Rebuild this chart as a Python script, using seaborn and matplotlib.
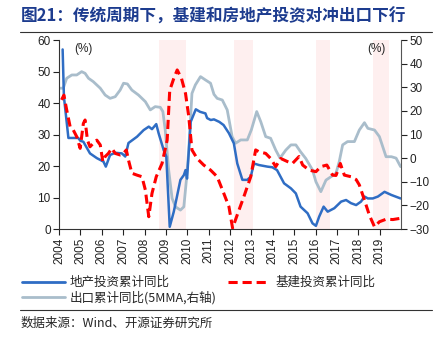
import matplotlib
matplotlib.use("Agg")
import matplotlib.pyplot as plt
from matplotlib.lines import Line2D
import seaborn as sns
import pandas as pd

# ---------------- data ----------------
t_re = [2004.17, 2004.23, 2004.44, 2004.9, 2005.0, 2005.14, 2005.45, 2005.77, 2006.08, 2006.19,
        2006.39, 2006.63, 2006.94, 2007.1, 2007.25, 2007.65, 2007.96, 2008.2, 2008.35, 2008.55,
        2008.66, 2008.9, 2009.02, 2009.18, 2009.37, 2009.5, 2009.68, 2009.84, 2009.92, 2009.99,
        2010.16, 2010.4, 2010.6, 2010.85, 2010.93, 2011.1, 2011.25, 2011.5, 2011.7, 2011.95,
        2012.18, 2012.34, 2012.58, 2012.81, 2012.97, 2013.12, 2013.36, 2013.75, 2013.98, 2014.2,
        2014.53, 2014.85, 2015.08, 2015.3, 2015.63, 2015.86, 2016.02, 2016.17, 2016.38, 2016.57,
        2016.88, 2017.2, 2017.43, 2017.66, 2017.9, 2018.13, 2018.29, 2018.45, 2018.68, 2018.92,
        2019.23, 2019.55, 2019.98]
v_re = [57, 42, 28.9, 28.9, 28, 27.7, 24, 22.5, 21.4, 19.8,
        23.5, 24.2, 24, 23, 27.3, 29.3, 31.4, 32.5, 31.7, 33.3,
        30.4, 25, 23, 0.7, 5.5, 9.7, 15.6, 17.1, 18.7, 16,
        34, 38, 37.2, 36.7, 35.2, 34.6, 34.8, 34, 33, 30.4,
        27.2, 20.8, 15.6, 15.6, 16.6, 20.8, 20.3, 19.8, 19.6, 18.7,
        14.5, 12.9, 11.3, 7.1, 5, 1.8, 1, 3.9, 7.1, 5.5,
        6.6, 8.7, 9.2, 8.2, 7.6, 8.7, 10.3, 9.7, 9.7, 10.3,
        11.8, 10.8, 9.7]

t_infra = [2004.12, 2004.23, 2004.36, 2004.52, 2004.67, 2004.83, 2004.99, 2005.14, 2005.22, 2005.33,
           2005.45, 2005.6, 2005.77, 2005.93, 2006.05, 2006.16, 2006.31, 2006.47, 2006.63, 2006.86,
           2007.02, 2007.15, 2007.25, 2007.41, 2007.65, 2007.88, 2008.04, 2008.2, 2008.35, 2008.55,
           2008.82, 2009.06, 2009.18, 2009.37, 2009.53, 2009.73, 2009.92, 2010.07, 2010.22, 2010.46,
           2010.77, 2011.09, 2011.4, 2011.71, 2011.95, 2012.12, 2012.34, 2012.65, 2012.97, 2013.2,
           2013.36, 2013.67, 2013.9, 2014.14, 2014.37, 2014.69, 2014.92, 2015.23, 2015.4, 2015.7,
           2016.02, 2016.25, 2016.53, 2016.8, 2016.96, 2017.16, 2017.35, 2017.66, 2017.9, 2018.05,
           2018.29, 2018.52, 2018.76, 2018.99, 2019.3, 2019.62, 2019.98]
v_infra = [41, 42.5, 37.8, 32.5, 31.4, 29.3, 25.6, 33.5, 34.6, 28.2,
           26.1, 27.2, 28.2, 26.7, 21.4, 23, 24, 25.6, 24, 23.5,
           24, 25.1, 21.9, 17.7, 17.1, 16.6, 12.4, 3.9, 11.3, 16.6,
           20.8, 28.2, 44, 47.8, 50.5, 47.8, 43, 35.7, 25.1, 22.4,
           20.3, 18.7, 16.6, 11.3, 7.1, 0.3, 4.5, 10.3, 16.6, 25.1,
           24.5, 24, 22.4, 19.8, 22.4, 21.4, 20.8, 23, 20.3, 18.7,
           18.2, 19.8, 20.3, 17.1, 17, 20.8, 17.1, 16.6, 15.7, 14,
           9.2, 4.4, 0.7, 2.3, 3.1, 3, 3.4]

t_exp = [2004.05, 2004.2, 2004.36, 2004.6, 2004.83, 2005.06, 2005.22, 2005.38, 2005.6, 2005.93,
         2006.16, 2006.39, 2006.63, 2006.86, 2007.02, 2007.2, 2007.41, 2007.72, 2008.04, 2008.27,
         2008.5, 2008.74, 2008.86, 2008.97, 2009.13, 2009.29, 2009.45, 2009.68, 2009.84, 2009.96,
         2010.07, 2010.22, 2010.38, 2010.62, 2010.85, 2011.09, 2011.25, 2011.4, 2011.64, 2011.87,
         2012.1, 2012.26, 2012.5, 2012.81, 2013.0, 2013.25, 2013.44, 2013.67, 2013.9, 2014.14,
         2014.34, 2014.61, 2014.85, 2015.08, 2015.3, 2015.54, 2015.86, 2016.02, 2016.25, 2016.49,
         2016.72, 2016.96, 2017.11, 2017.27, 2017.5, 2017.82, 2018.05, 2018.29, 2018.45, 2018.76,
         2018.99, 2019.3, 2019.55, 2019.77, 2019.98]
v_exp = [29.6, 29.6, 33.8, 35.2, 35.2, 36.6, 35.9, 33.8, 32.4, 29.6,
         26.7, 25.3, 26, 28.8, 31.7, 31.4, 28.8, 26.7, 23.9, 20.4,
         21.8, 21.5, 19.7, 11.9, -5, -17, -20.6, -22, -20.6, -9.3,
         3.4, 27.4, 31, 34.5, 33.1, 31.7, 27, 25.3, 24.6, 20.4,
         9.1, 6.3, 7.7, 7.7, 12, 19.7, 15.4, 9.1, 8.4, 3.4,
         0, 3.4, 5.6, 5.6, 2.7, -0.1, -5, -10, -14.2, -9.3,
         -7.9, -6.4, -1.5, 5.6, 7, 7, 11.9, 15, 12.6, 11.9,
         9.1, 0.6, 0.6, 0, -3.6]

shade_start = [2008.7, 2012.17, 2016.0, 2018.7]
shade_end = [2009.96, 2013.07, 2016.7, 2019.46]
year_ticks = list(range(2004, 2020))

label_re = "地产投资累计同比"
label_infra = "基建投资累计同比"
label_exp = "出口累计同比(5MMA,右轴)"
title = "图21：传统周期下，基建和房地产投资对冲出口下行"
source = "数据来源：Wind、开源证券研究所"

df_re = pd.DataFrame({"t": t_re, "v": v_re})
df_infra = pd.DataFrame({"t": t_infra, "v": v_infra})
df_exp = pd.DataFrame({"t": t_exp, "v": v_exp})

# ---------------- style ----------------
sns.set_style("ticks")
plt.rcParams['font.family'] = ['Liberation Sans', 'Noto Sans CJK SC', 'DejaVu Sans']
cjk = ['Noto Sans CJK SC', 'DejaVu Sans']

C_BLUE = "#2F6DC4"
C_RED = "#FF0000"
C_GRAY = "#A9BDCB"
C_SHADE = "#FEEFEF"

W, H = 447, 341
fig = plt.figure(figsize=(W / 100, H / 100), dpi=100)
ax = fig.add_axes([59 / W, (H - 229) / H, (401 - 59) / W, (229 - 40) / H])
ax2 = ax.twinx()

for s, e in zip(shade_start, shade_end):
    ax2.axvspan(s, e, color=C_SHADE, lw=0, zorder=0)

sns.lineplot(data=df_exp, x="t", y="v", ax=ax2, color=C_GRAY, lw=2.0,
             estimator=None, sort=False, legend=False, zorder=2)
sns.lineplot(data=df_re, x="t", y="v", ax=ax, color=C_BLUE, lw=1.8,
             estimator=None, sort=False, legend=False, zorder=3)
sns.lineplot(data=df_infra, x="t", y="v", ax=ax, color=C_RED, lw=2.2,
             linestyle=(0, (3, 1.6)), estimator=None, sort=False, legend=False, zorder=4)

ax.set_zorder(ax2.get_zorder() + 1)
ax.patch.set_visible(False)

ax.set_xlim(2004, 2020)
ax.set_ylim(0, 60)
ax2.set_ylim(-30, 50)
ax.set_yticks(range(0, 61, 10))
ax2.set_yticks(range(-30, 51, 10))
ax.set_xticks(year_ticks)
ax.set_xticklabels([str(y) for y in year_ticks], rotation=90)
for a in (ax, ax2):
    a.set_xlabel("")
    a.set_ylabel("")
    a.spines['top'].set_visible(False)
    a.tick_params(labelsize=8.5, length=4, width=0.8, colors="#222222", pad=2)
ax.spines['right'].set_visible(False)
ax2.spines['left'].set_visible(False)
ax2.spines['bottom'].set_visible(False)
ax.spines['left'].set_color("#333333")
ax.spines['bottom'].set_color("#333333")
ax2.spines['right'].set_color("#555555")

ax.text(0.045, 0.985, "(%)", transform=ax.transAxes, fontsize=8.5, va="top", ha="left")
ax.text(0.955, 0.985, "(%)", transform=ax.transAxes, fontsize=8.5, va="top", ha="right")

# title and rules
fig.text(21 / W, 1 - 17 / H, title, fontsize=12, fontweight="bold", color="#1D3C8F",
         va="center", ha="left", family=cjk)
fig.add_artist(Line2D([20 / W, 432 / W], [1 - 32 / H, 1 - 32 / H], color="#333333", lw=0.8))
fig.add_artist(Line2D([20 / W, 432 / W], [1 - 310 / H, 1 - 310 / H], color="#333333", lw=0.8))

handles = [Line2D([], [], color=C_BLUE, lw=2.0),
           Line2D([], [], color=C_GRAY, lw=2.0),
           Line2D([], [], color=C_RED, lw=2.2, linestyle=(0, (3, 1.6)))]
labels = [label_re, label_exp, label_infra]
leg = fig.legend(handles, labels, loc="upper left", bbox_to_anchor=(22 / W, 1 - 276 / H),
                 ncol=2, frameon=False, handlelength=3.4, handletextpad=0.4,
                 columnspacing=0.9, labelspacing=0.15, borderaxespad=0, borderpad=0,
                 prop={'family': cjk, 'size': 9})

fig.text(21 / W, 1 - 323 / H, source, fontsize=9, va="center", ha="left", family=cjk)

fig.savefig("out.png", dpi=100)
